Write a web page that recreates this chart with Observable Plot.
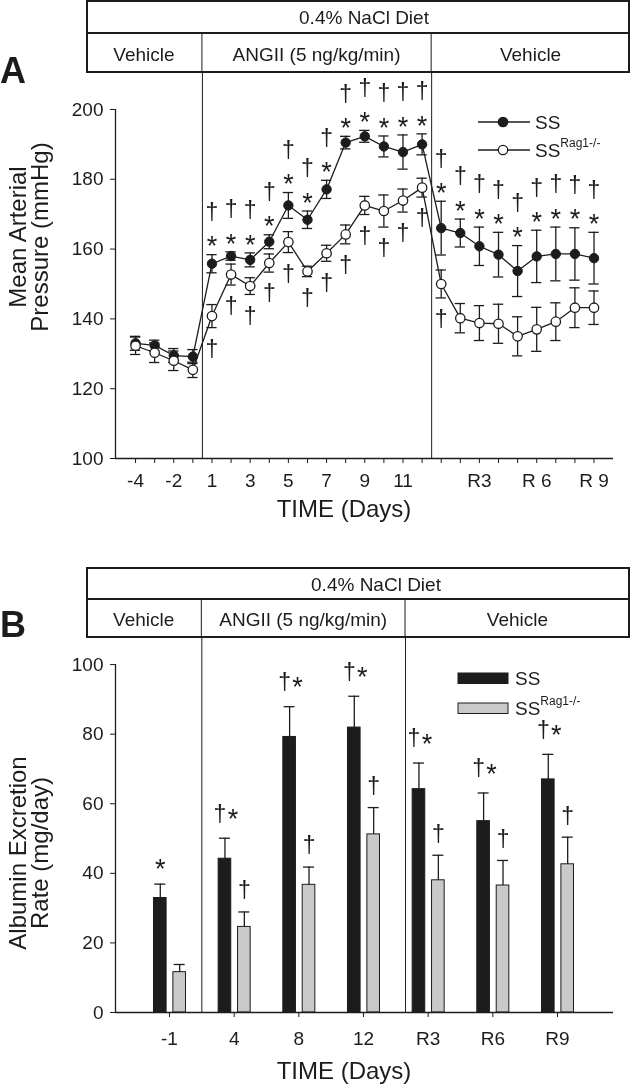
<!DOCTYPE html>
<html><head><meta charset="utf-8">
<script src="https://cdn.jsdelivr.net/npm/d3@7"></script>
<script src="https://cdn.jsdelivr.net/npm/@observablehq/plot@0.6"></script>
<style>
body{margin:0;background:#fff;}
#root{position:relative;width:630px;height:1085px;overflow:hidden;background:#fff;}
#root svg{position:absolute;left:0;will-change:transform;}
</style></head><body><div id="root"></div>
<script>
// ---------------- Panel A data (Mean Arterial Pressure, mmHg) ----------------
const daysA = ["-4","-3","-2","-1","1","2","3","4","5","6","7","8","9","10","11","12","R1","R2","R3","R4","R5","R6","R7","R8","R9"];
const tickLabelsA = ["-4","","-2","","1","","3","","5","","7","","9","","11","","","","R3","","","R 6","","","R 9"];
const ssMAP  = [133.0,132.4,129.5,129.2,155.8,158.0,156.9,162.1,172.5,168.4,177.1,190.5,192.3,189.4,187.8,190.0,166.0,164.6,160.8,158.4,153.7,157.9,158.6,158.6,157.4];
const ssSEM  = [2.0,1.5,2.0,2.0,2.6,1.2,2.0,2.0,3.7,2.5,2.6,1.8,1.7,3.0,4.9,3.0,7.7,4.0,5.5,6.4,7.3,7.5,7.7,7.5,7.4];
const ragMAP = [132.3,130.3,128.0,125.4,140.8,152.7,149.4,156.0,162.0,153.6,158.8,164.2,172.5,170.9,173.9,177.6,150.0,140.2,138.8,138.6,135.0,137.0,139.2,143.2,143.2];
const ragSEM = [2.5,2.8,2.8,2.2,3.3,3.0,2.4,2.6,3.0,1.5,2.3,2.7,2.6,4.6,3.3,2.7,4.0,4.2,5.0,5.6,5.6,6.3,5.4,5.7,4.8];
const ssStarA    = [0,0,0,0,1,1,1,1,1,1,1,1,1,1,1,1,1,1,1,1,1,1,1,1,1];
const ssDaggerA  = [0,0,0,0,1,1,1,1,1,1,1,1,1,1,1,1,1,1,1,1,1,1,1,1,1];
const ragDaggerA = [0,0,0,0,1,1,1,1,1,1,1,1,1,1,1,1,1,0,0,0,0,0,0,0,0];
const yTicksA = [100,120,140,160,180,200];
const phaseBreaksA = [3.5, 15.5];

// ---------------- Panel B data (Albumin Excretion Rate, mg/day) ----------------
const timeB = ["-1","4","8","12","R3","R6","R9"];
const ssAER     = [32.9,44.2,79.2,81.9,64.2,55.0,67.0];
const ssAERsem  = [4.0,5.9,8.7,9.0,7.5,8.1,7.2];
const ragAER    = [11.6,24.6,36.7,51.2,38.0,36.5,42.6];
const ragAERsem = [2.2,4.3,5.1,7.7,7.2,7.2,7.8];
const ssStarB    = [1,1,1,1,1,1,1];
const ssDaggerB  = [0,1,1,1,1,1,1];
const ragDaggerB = [0,1,1,1,1,1,1];
const yTicksB = [0,20,40,60,80,100];
const phaseBreaksB = [0.5, 3.65];

// ---------------- headers / text ----------------
const dietLabel = "0.4% NaCl Diet";
const phaseLabels = ["Vehicle","ANGII (5 ng/kg/min)","Vehicle"];
const seriesNames = ["SS","SS"];
const seriesSup = ["","Rag1-/-"];

// ---------------- style ----------------
const INK = "#1c1c1c";
const GRAY = "#c9c9c9";
const FONT = '"Liberation Sans", Arial, Helvetica, sans-serif';
const STAR = 27, DAG = 23;
const root = d3.select("#root");

// ================= Panel A =================
const rowsA = daysA.map((day, i) => ({i, day, ss: ssMAP[i], ssE: ssSEM[i], rag: ragMAP[i], ragE: ragSEM[i]}));
const capA = 0.27;
const xDomA = [-1.05, 25.02];
const errMarks = (key, ekey) => [
  Plot.ruleX(rowsA, {x: "i", y1: d => d[key] - d[ekey], y2: d => d[key] + d[ekey], stroke: INK, strokeWidth: 1.3}),
  Plot.ruleY(rowsA, {y: d => d[key] + d[ekey], x1: d => d.i - capA, x2: d => d.i + capA, stroke: INK, strokeWidth: 1.3}),
  Plot.ruleY(rowsA, {y: d => d[key] - d[ekey], x1: d => d.i - capA, x2: d => d.i + capA, stroke: INK, strokeWidth: 1.3})
];
const plotA = Plot.plot({
  width: 630, height: 530,
  marginTop: 73, marginBottom: 72, marginLeft: 115, marginRight: 17,
  style: {fontFamily: FONT, fontSize: "19px", color: INK, background: "transparent", overflow: "visible"},
  x: {type: "linear", domain: xDomA, ticks: d3.range(daysA.length), tickFormat: i => tickLabelsA[i] ?? "", tickSize: 5, tickPadding: 10, label: null},
  y: {domain: [100, 210.3], ticks: yTicksA, tickSize: 5, tickPadding: 7, label: null},
  marks: [
    Plot.ruleX(phaseBreaksA, {stroke: INK, strokeWidth: 1}),
    Plot.ruleY([100], {stroke: INK, strokeWidth: 1.3}),
    Plot.ruleX([xDomA[0]], {y1: 100, y2: 200, stroke: INK, strokeWidth: 1.3}),
    ...errMarks("rag", "ragE"),
    ...errMarks("ss", "ssE"),
    Plot.line(rowsA, {x: "i", y: "rag", stroke: INK, strokeWidth: 1.3}),
    Plot.line(rowsA, {x: "i", y: "ss", stroke: INK, strokeWidth: 1.3}),
    Plot.dot(rowsA, {x: "i", y: "ss", r: 4.7, fill: INK, stroke: INK, strokeWidth: 1}),
    Plot.dot(rowsA, {x: "i", y: "rag", r: 4.7, fill: "white", stroke: INK, strokeWidth: 1.3}),
    Plot.text(rowsA.filter(d => ssStarA[d.i]), {x: "i", y: d => d.ss + d.ssE, text: () => "*", dy: -8, fontSize: STAR, lineAnchor: "middle", fill: INK}),
    Plot.text(rowsA.filter(d => ssDaggerA[d.i]), {x: "i", y: d => d.ss + d.ssE, text: () => "†", dy: -42, fontSize: DAG, lineAnchor: "middle", fill: INK}),
    Plot.text(rowsA.filter(d => ragDaggerA[d.i]), {x: "i", y: d => d.rag - d.ragE, text: () => "†", dy: 22, fontSize: DAG, lineAnchor: "middle", fill: INK})
  ]
});
plotA.style.top = "0px";
root.node().appendChild(plotA);

// ================= Panel B =================
const barOff = {ss: [-0.24, -0.045], rag: [0.06, 0.255]};
const capB = 0.085;
const rowsB = timeB.map((t, i) => ({i, t, ss: ssAER[i], ssE: ssAERsem[i], rag: ragAER[i], ragE: ragAERsem[i],
  ssStar: ssStarB[i], ssDag: ssDaggerB[i], ragDag: ragDaggerB[i]}));
const xDomB = [-0.835, 6.866];
const barMarks = (key, ekey, fill) => {
  const [o1, o2] = barOff[key];
  const c = (o1 + o2) / 2;
  return [
    Plot.rectY(rowsB, {x1: d => d.i + o1, x2: d => d.i + o2, y1: 0, y2: key, fill, stroke: INK, strokeWidth: 1}),
    Plot.ruleX(rowsB, {x: d => d.i + c, y1: key, y2: d => d[key] + d[ekey], stroke: INK, strokeWidth: 1.3}),
    Plot.ruleY(rowsB, {y: d => d[key] + d[ekey], x1: d => d.i + c - capB, x2: d => d.i + c + capB, stroke: INK, strokeWidth: 1.3})
  ];
};
const cSS = (barOff.ss[0] + barOff.ss[1]) / 2, cRag = (barOff.rag[0] + barOff.rag[1]) / 2;
const topSS = d => d.ss + d.ssE, topRag = d => d.rag + d.ragE;
const plotB = Plot.plot({
  width: 630, height: 525,
  marginTop: 78, marginBottom: 73, marginLeft: 115, marginRight: 17,
  style: {fontFamily: FONT, fontSize: "19px", color: INK, background: "transparent", overflow: "visible"},
  x: {type: "linear", domain: xDomB, ticks: d3.range(timeB.length), tickFormat: i => timeB[i] ?? "", tickSize: 5, tickPadding: 14, label: null},
  y: {domain: [0, 107.5], ticks: yTicksB, tickSize: 5, tickPadding: 7, label: null},
  marks: [
    Plot.ruleX(phaseBreaksB, {stroke: INK, strokeWidth: 1}),
    ...barMarks("ss", "ssE", INK),
    ...barMarks("rag", "ragE", GRAY),
    Plot.ruleY([0], {stroke: INK, strokeWidth: 1.3}),
    Plot.ruleX([xDomB[0]], {y1: 0, y2: 100, stroke: INK, strokeWidth: 1.3}),
    // star alone
    Plot.text(rowsB.filter(d => d.ssStar && !d.ssDag), {x: d => d.i + cSS, y: topSS, text: () => "*", dy: -15, fontSize: STAR, lineAnchor: "middle", fill: INK}),
    // dagger + star pair
    Plot.text(rowsB.filter(d => d.ssStar && d.ssDag), {x: d => d.i + cSS, y: topSS, text: () => "†", dx: -5, dy: -24, fontSize: DAG, lineAnchor: "middle", fill: INK}),
    Plot.text(rowsB.filter(d => d.ssStar && d.ssDag), {x: d => d.i + cSS, y: topSS, text: () => "*", dx: 8, dy: -19, fontSize: STAR, lineAnchor: "middle", fill: INK}),
    Plot.text(rowsB.filter(d => d.ragDag), {x: d => d.i + cRag, y: topRag, text: () => "†", dy: -21, fontSize: DAG, lineAnchor: "middle", fill: INK})
  ]
});
const topB = 560;
plotB.style.top = topB + "px";
root.node().appendChild(plotB);

// ================= Overlay: headers, titles, legends =================
const ov = root.append("svg").attr("width", 630).attr("height", 1085)
  .style("top", "0px").style("pointer-events", "none")
  .attr("font-family", FONT).attr("fill", INK);

function header(top, mid, bottom, breaksPx, titleX) {
  const g = ov.append("g");
  g.append("rect").attr("x", 87).attr("y", top + 1).attr("width", 542).attr("height", bottom - top - 2)
    .attr("fill", "none").attr("stroke", INK).attr("stroke-width", 2);
  g.append("line").attr("x1", 86).attr("x2", 630).attr("y1", mid).attr("y2", mid).attr("stroke", INK).attr("stroke-width", 2);
  breaksPx.forEach(x => g.append("line").attr("x1", x).attr("x2", x).attr("y1", mid).attr("y2", bottom).attr("stroke", INK).attr("stroke-width", 1));
  g.append("text").attr("x", titleX).attr("y", (top + mid) / 2 + 1).attr("text-anchor", "middle")
    .attr("dominant-baseline", "central").attr("font-size", 19).text(dietLabel);
  const edges = [86, ...breaksPx, 630];
  phaseLabels.forEach((lab, k) => {
    g.append("text").attr("x", (edges[k] + edges[k + 1]) / 2).attr("y", (mid + bottom) / 2 + 1)
      .attr("text-anchor", "middle").attr("dominant-baseline", "central").attr("font-size", 19).text(lab);
  });
}
const sxA = plotA.scale("x"), sxB = plotB.scale("x");
header(0, 33, 73, phaseBreaksA.map(v => sxA.apply(v)), 364);
header(567, 599, 638, phaseBreaksB.map(v => sxB.apply(v)), 376);

// panel letters
ov.append("text").attr("x", 0).attr("y", 83).attr("font-size", 36).attr("font-weight", "bold").text("A");
ov.append("text").attr("x", 0).attr("y", 637).attr("font-size", 36).attr("font-weight", "bold").text("B");

// axis titles
function yTitle(cy, lines) {
  const xs = [26, 48];
  lines.forEach((l, k) => ov.append("text").attr("transform", `translate(${xs[k]},${cy}) rotate(-90)`)
    .attr("text-anchor", "middle").attr("font-size", 24).text(l));
}
yTitle(237, ["Mean Arterial", "Pressure (mmHg)"]);
yTitle(853, ["Albumin Excretion", "Rate (mg/day)"]);
ov.append("text").attr("x", 344).attr("y", 517).attr("text-anchor", "middle").attr("font-size", 24).text("TIME (Days)");
ov.append("text").attr("x", 344).attr("y", 1079).attr("text-anchor", "middle").attr("font-size", 24).text("TIME (Days)");

// legends
function legendLabel(x, y, k) {
  const t = ov.append("text").attr("x", x).attr("y", y).attr("dominant-baseline", "central").attr("font-size", 19);
  t.append("tspan").text(seriesNames[k]);
  if (seriesSup[k]) t.append("tspan").attr("font-size", 12).attr("dy", -7).text(seriesSup[k]);
}
// A
[[122, INK], [150, "white"]].forEach(([y, f], k) => {
  ov.append("line").attr("x1", 478).attr("x2", 530).attr("y1", y).attr("y2", y).attr("stroke", INK).attr("stroke-width", 1.3);
  ov.append("circle").attr("cx", 503).attr("cy", y).attr("r", 4.7).attr("fill", f).attr("stroke", INK).attr("stroke-width", 1.3);
  legendLabel(535, y, k);
});
// B
[[678, INK], [708, GRAY]].forEach(([y, f], k) => {
  ov.append("rect").attr("x", 458).attr("y", y - 5).attr("width", 50).attr("height", 10.5).attr("fill", f).attr("stroke", INK).attr("stroke-width", 1);
  legendLabel(515, y, k);
});
</script></body></html>
